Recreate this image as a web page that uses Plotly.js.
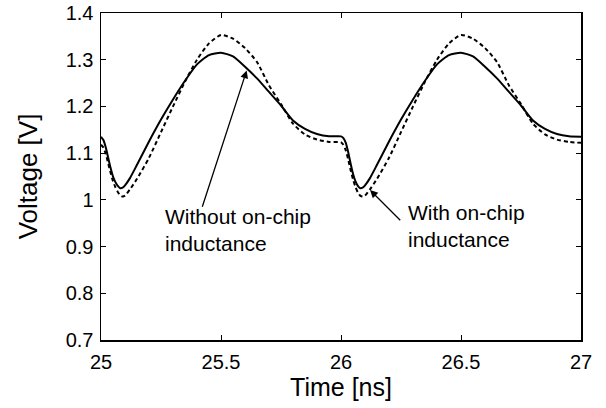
<!DOCTYPE html>
<html>
<head>
<meta charset="utf-8">
<script src="https://cdn.plot.ly/plotly-3.0.1.min.js"></script>
<style>html,body{margin:0;padding:0;background:#fff;}#chart{width:606px;height:408px;}</style>
</head>
<body>
<div id="chart"></div>
<script>
// Without on-chip inductance (solid)
var timeSolid = [25.00,25.01,25.02,25.03,25.04,25.05,25.06,25.07,25.08,25.09,25.10,25.12,25.15,25.20,25.25,25.30,25.35,25.40,25.45,25.50,25.55,25.60,25.65,25.70,25.75,25.80,25.85,25.90,25.95,26.00,
                 26.01,26.02,26.03,26.04,26.05,26.06,26.07,26.08,26.09,26.10,26.12,26.15,26.20,26.25,26.30,26.35,26.40,26.45,26.50,26.55,26.60,26.65,26.70,26.75,26.80,26.85,26.90,26.95,27.00];
var vSolid = [1.135,1.128,1.112,1.090,1.068,1.050,1.038,1.030,1.025,1.026,1.031,1.046,1.075,1.125,1.172,1.215,1.255,1.290,1.310,1.315,1.307,1.285,1.260,1.231,1.202,1.170,1.152,1.141,1.136,1.136,
              1.132,1.122,1.102,1.078,1.056,1.040,1.030,1.025,1.026,1.031,1.046,1.075,1.125,1.172,1.215,1.255,1.290,1.310,1.315,1.307,1.285,1.260,1.231,1.202,1.170,1.152,1.141,1.136,1.135];
// With on-chip inductance (dashed)
var timeDash = [25.00,25.01,25.02,25.03,25.04,25.05,25.06,25.07,25.08,25.09,25.10,25.12,25.15,25.20,25.25,25.30,25.35,25.40,25.45,25.50,25.55,25.60,25.65,25.70,25.75,25.80,25.85,25.90,25.95,26.00,
                26.01,26.02,26.03,26.04,26.05,26.06,26.07,26.08,26.09,26.10,26.12,26.15,26.20,26.25,26.30,26.35,26.40,26.45,26.50,26.55,26.60,26.65,26.70,26.75,26.80,26.85,26.90,26.95,27.00];
var vDash = [1.118,1.112,1.098,1.078,1.058,1.040,1.027,1.017,1.010,1.007,1.009,1.022,1.045,1.090,1.145,1.200,1.253,1.300,1.335,1.353,1.345,1.325,1.295,1.245,1.205,1.163,1.140,1.129,1.124,1.123,
             1.118,1.106,1.086,1.064,1.044,1.028,1.016,1.009,1.007,1.009,1.022,1.045,1.090,1.145,1.200,1.253,1.300,1.335,1.353,1.345,1.325,1.295,1.245,1.205,1.163,1.140,1.129,1.124,1.122];
var xTicks = [25, 25.5, 26, 26.5, 27];
var xTickLabels = ['25', '25.5', '26', '26.5', '27'];
var yTicks = [0.7, 0.8, 0.9, 1.0, 1.1, 1.2, 1.3, 1.4];
var yTickLabels = ['0.7', '0.8', '0.9', '1', '1.1', '1.2', '1.3', '1.4'];

var FONT = 'Arial, "Liberation Sans", Helvetica, sans-serif';

var traces = [
  {x: timeSolid, y: vSolid, type: 'scatter', mode: 'lines', line: {color: '#000', width: 2, shape: 'spline', smoothing: 0.6}, name: 'Without on-chip inductance'},
  {x: timeDash, y: vDash, type: 'scatter', mode: 'lines', line: {color: '#000', width: 2, dash: '4px,3px', shape: 'spline', smoothing: 0.6}, name: 'With on-chip inductance'}
];

var axisCommon = {
  showgrid: false, zeroline: false, showline: true, linecolor: '#000', linewidth: 1.5,
  mirror: 'ticks', ticks: 'inside', ticklen: 5, tickwidth: 1, tickcolor: '#000',
  tickfont: {family: FONT, size: 20, color: '#000'}
};

var layout = {
  width: 606, height: 408,
  margin: {l: 101, r: 25, t: 13, b: 68},
  paper_bgcolor: '#fff', plot_bgcolor: '#fff',
  showlegend: false,
  xaxis: Object.assign({}, axisCommon, {
    range: [25, 27], tickmode: 'array', tickvals: xTicks, ticktext: xTickLabels,
    ticklabelstandoff: 3,
    title: {text: 'Time [ns]', font: {family: FONT, size: 25, color: '#000'}, standoff: 1}
  }),
  yaxis: Object.assign({}, axisCommon, {
    range: [0.7, 1.4], tickmode: 'array', tickvals: yTicks, ticktext: yTickLabels,
    ticklabelstandoff: 2,
    title: {text: 'Voltage [V]', font: {family: FONT, size: 26, color: '#000'}, standoff: 20}
  }),
  annotations: [
    {x: 25.607, y: 1.277, ax: 25.42, ay: 0.982, xref: 'x', yref: 'y', axref: 'x', ayref: 'y',
     text: '', showarrow: true, arrowhead: 2, arrowsize: 1.2, arrowwidth: 1.3, arrowcolor: '#000'},
    {x: 26.121, y: 1.021, ax: 26.253, ay: 0.953, xref: 'x', yref: 'y', axref: 'x', ayref: 'y',
     text: '', showarrow: true, arrowhead: 2, arrowsize: 1.2, arrowwidth: 1.3, arrowcolor: '#000'},
    {x: 25.258, y: 0.935, xref: 'x', yref: 'y', xanchor: 'left', yanchor: 'middle', align: 'left',
     text: 'Without on-chip<br>inductance', showarrow: false, font: {family: FONT, size: 21, color: '#000'}},
    {x: 26.27, y: 0.945, xref: 'x', yref: 'y', xanchor: 'left', yanchor: 'middle', align: 'left',
     text: 'With on-chip<br>inductance', showarrow: false, font: {family: FONT, size: 21, color: '#000'}}
  ]
};

Plotly.newPlot('chart', traces, layout, {staticPlot: true, displayModeBar: false});
</script>
</body>
</html>
